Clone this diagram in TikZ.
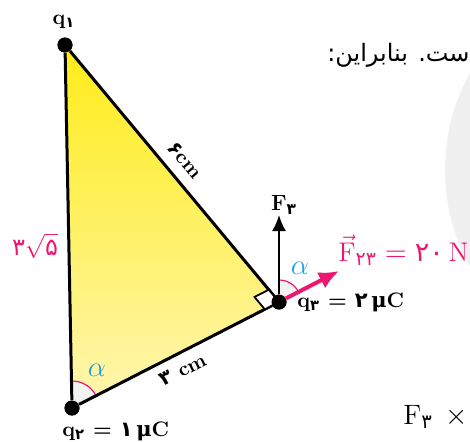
\documentclass[tikz,border=0pt]{standalone}
\usepackage{amsmath}
\usepackage{fontspec}
\usepackage{tikz}
\usetikzlibrary{arrows.meta}
\newfontfamily\fanum{DejaVu Sans}
\newfontfamily\grk{DejaVu Serif}
\newfontfamily\persianfont[Script=Arabic]{DejaVu Sans}
\TeXXeTstate=1
\definecolor{fpink}{RGB}{236,24,112}
\definecolor{acyan}{RGB}{30,160,228}
\definecolor{ytop}{RGB}{255,236,24}
\definecolor{ybot}{RGB}{255,246,178}

\begin{document}
\begin{tikzpicture}[x=0.5pt,y=0.5pt,
  charge/.style={circle,fill=black,inner sep=0pt,minimum size=7.5pt},
  edge/.style={line width=1.5pt},
  qlabel/.style={font=\bfseries\fontsize{10.5}{12}\selectfont,inner sep=1pt},
  dimlabel/.style={font=\bfseries\fontsize{10}{12}\selectfont,inner sep=1pt},
  alphalabel/.style={text=acyan,font=\fontsize{15}{17}\selectfont,inner sep=0pt},
  anglefill/.style={fill=black!5},
  anglearc/.style={draw=fpink,line width=0.6pt}]

\clip (0,0) rectangle (470,441);
\fill[black!6] (646,271) circle[radius=201];

\node[charge] (q1) at (65,396) {};
\node[charge] (q2) at (72,33) {};
\node[charge] (q3) at (279,139) {};
\coordinate (f3) at (279,226);
\coordinate (f23) at (339,170);

\shade[top color=ytop,bottom color=ybot] (q1.center) -- (q2.center) -- (q3.center) -- cycle;

\fill[anglefill] (q2.center) -- ++(27.1:27) arc[start angle=27.1,end angle=91.1,radius=27] -- cycle;
\draw[anglearc] (q2.center) ++(27.1:27) arc[start angle=27.1,end angle=91.1,radius=27];
\fill[anglefill] (q3.center) -- ++(27.1:22) arc[start angle=27.1,end angle=90,radius=22] -- cycle;
\draw[anglearc] (q3.center) ++(27.1:22) arc[start angle=27.1,end angle=90,radius=22];

\draw[edge] (q1) -- (q2);
\draw[edge] (q2) -- (q3);
\draw[edge] (q3) -- (q1);
\filldraw[fill=white,line width=0.9pt] (q3.center) -- ++(129.8:16) -- ++(207.1:16) -- ++(309.8:16) -- cycle;

\draw[line width=1pt,-{Latex[length=8pt,width=7pt]}] (q3) -- (f3);
\draw[fpink,line width=2pt,-{Latex[length=10pt,width=9pt]}] (q3) -- (f23);

\node[charge] at (q1) {};
\node[charge] at (q2) {};
\node[charge] at (q3) {};

\node[qlabel] (lq1) at (64,419) {q\textsubscript{\fanum\bfseries ۱}};
\node[qlabel,anchor=west] (lq2) at (60,10) {q\textsubscript{\fanum\bfseries ۲} = {\fanum\bfseries ۱}\,{\grk\bfseries μ}C};
\node[qlabel,anchor=west] (lq3) at (295,139) {q\textsubscript{\fanum\bfseries ۳} = {\fanum\bfseries ۲}\,{\grk\bfseries μ}C};
\node[qlabel,font=\bfseries\fontsize{11}{13}\selectfont] (lf3) at (284,236) {F\textsubscript{\fanum\bfseries ۳}};

\node[dimlabel,rotate=-50.2] (l13) at (185,281) {{\fanum\bfseries ۶}cm};
\node[dimlabel,rotate=27.1] (l23) at (183,71) {{\fanum\bfseries ۳} cm};
\node[text=fpink,font=\fontsize{12}{14}\selectfont] (l12) at (35,195) {{\fanum ۳}$\sqrt{\text{\fanum ۵}}$};

\node[alphalabel] (a2) at (97,71) {$\alpha$};
\node[alphalabel] (a3) at (300,173) {$\alpha$};

\node[text=fpink,anchor=west,inner sep=0pt,font=\fontsize{13.5}{16}\selectfont] (lf23) at (338,191)
  {$\vec{\mathrm{F}}_{\text{\fanum ۲۳}} = \text{\fanum ۲۰}\,\mathrm{N}$};

\node[anchor=east,inner sep=0pt,font=\persianfont\fontsize{12}{14}\selectfont] (intro) at (470,386) {\beginR ست. بنابراین:\endR};
\node[anchor=west,inner sep=0pt,font=\fontsize{14}{16}\selectfont] (f3x) at (403,24) {$\mathrm{F}_{\text{\fanum ۳}}\;\,\times$};

\end{tikzpicture}
\end{document}
